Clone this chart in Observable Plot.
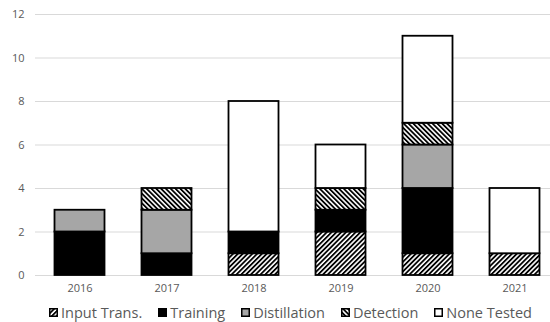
<!DOCTYPE html>
<html>
<head>
<meta charset="utf-8">
<script src="https://cdn.jsdelivr.net/npm/d3@7"></script>
<script src="https://cdn.jsdelivr.net/npm/@observablehq/plot@0.6"></script>
<style>
  body { margin: 0; background: #fff; }
  #legend { display: flex; align-items: center; height: 27px; margin-top: 4px; font-family: "Open Sans", sans-serif; font-size: 14.5px; color: #595959; padding-left: 49px; }
  #legend .item { display: flex; align-items: center; margin-right: 16px; }
  #legend svg { margin-right: 3px; }
</style>
</head>
<body>
<div id="chart"></div>
<div id="legend"></div>
<script>
const years = ["2016", "2017", "2018", "2019", "2020", "2021"];
const series = ["Input Trans.", "Training", "Distillation", "Detection", "None Tested"];
const inputTrans = [0, 0, 1, 2, 1, 1];
const training = [2, 1, 1, 1, 3, 0];
const distillation = [1, 2, 0, 0, 2, 0];
const detection = [0, 1, 0, 1, 1, 0];
const noneTested = [0, 0, 6, 2, 4, 3];
const yTicks = [0, 2, 4, 6, 8, 10, 12];
const fills = ["url(#hatchFwd)", "#000000", "#a6a6a6", "url(#hatchBack)", "#ffffff"];

const valuesBySeries = [inputTrans, training, distillation, detection, noneTested];
const data = [];
series.forEach((s, si) => years.forEach((y, yi) => data.push({year: y, series: s, value: valuesBySeries[si][yi]})));

const defsHtml = `
<pattern id="hatchFwd" patternUnits="userSpaceOnUse" width="3.4" height="3.4" patternTransform="rotate(45)">
  <rect width="3.4" height="3.4" fill="#fff"/>
  <line x1="0.9" y1="0" x2="0.9" y2="3.4" stroke="#000" stroke-width="1.8"/>
</pattern>
<pattern id="hatchBack" patternUnits="userSpaceOnUse" width="3.4" height="3.4" patternTransform="rotate(-45)">
  <rect width="3.4" height="3.4" fill="#fff"/>
  <line x1="0.9" y1="0" x2="0.9" y2="3.4" stroke="#000" stroke-width="1.8"/>
</pattern>`;

const chart = Plot.plot({
  width: 550,
  height: 295,
  marginLeft: 35,
  marginRight: 0,
  marginTop: 14,
  marginBottom: 20,
  style: {fontFamily: "Open Sans, sans-serif", fontSize: "11px", color: "#595959", background: "#fff"},
  x: {domain: years, range: [35, 558], padding: 0, label: null},
  y: {domain: [0, 12], ticks: yTicks, label: null},
  color: {domain: series, range: fills},
  marks: [
    Plot.gridY(yTicks, {stroke: "#d9d9d9", strokeOpacity: 1, strokeWidth: 1}),
    Plot.axisY(yTicks, {tickSize: 0, tickPadding: 11, label: null, fill: "#595959"}),
    Plot.axisX({tickSize: 0, tickPadding: 9, label: null, fill: "#595959"}),
    Plot.ruleY([0], {stroke: "#d9d9d9"}),
    Plot.barY(data, {x: "year", y: "value", fill: "series", order: series, stroke: "#000", strokeWidth: 1.8, insetLeft: 18.5, insetRight: 18.5, filter: d => d.value > 0})
  ]
});
d3.select(chart).insert("defs", ":first-child").html(defsHtml);
document.getElementById("chart").appendChild(chart);

const legend = d3.select("#legend");
series.forEach((s, i) => {
  const item = legend.append("div").attr("class", "item");
  const sw = item.append("svg").attr("width", 9).attr("height", 9);
  sw.append("rect").attr("x", 0.75).attr("y", 0.75).attr("width", 7.5).attr("height", 7.5)
    .attr("fill", fills[i]).attr("stroke", "#000").attr("stroke-width", 1.5);
  item.append("span").text(s);
});
</script>
</body>
</html>
